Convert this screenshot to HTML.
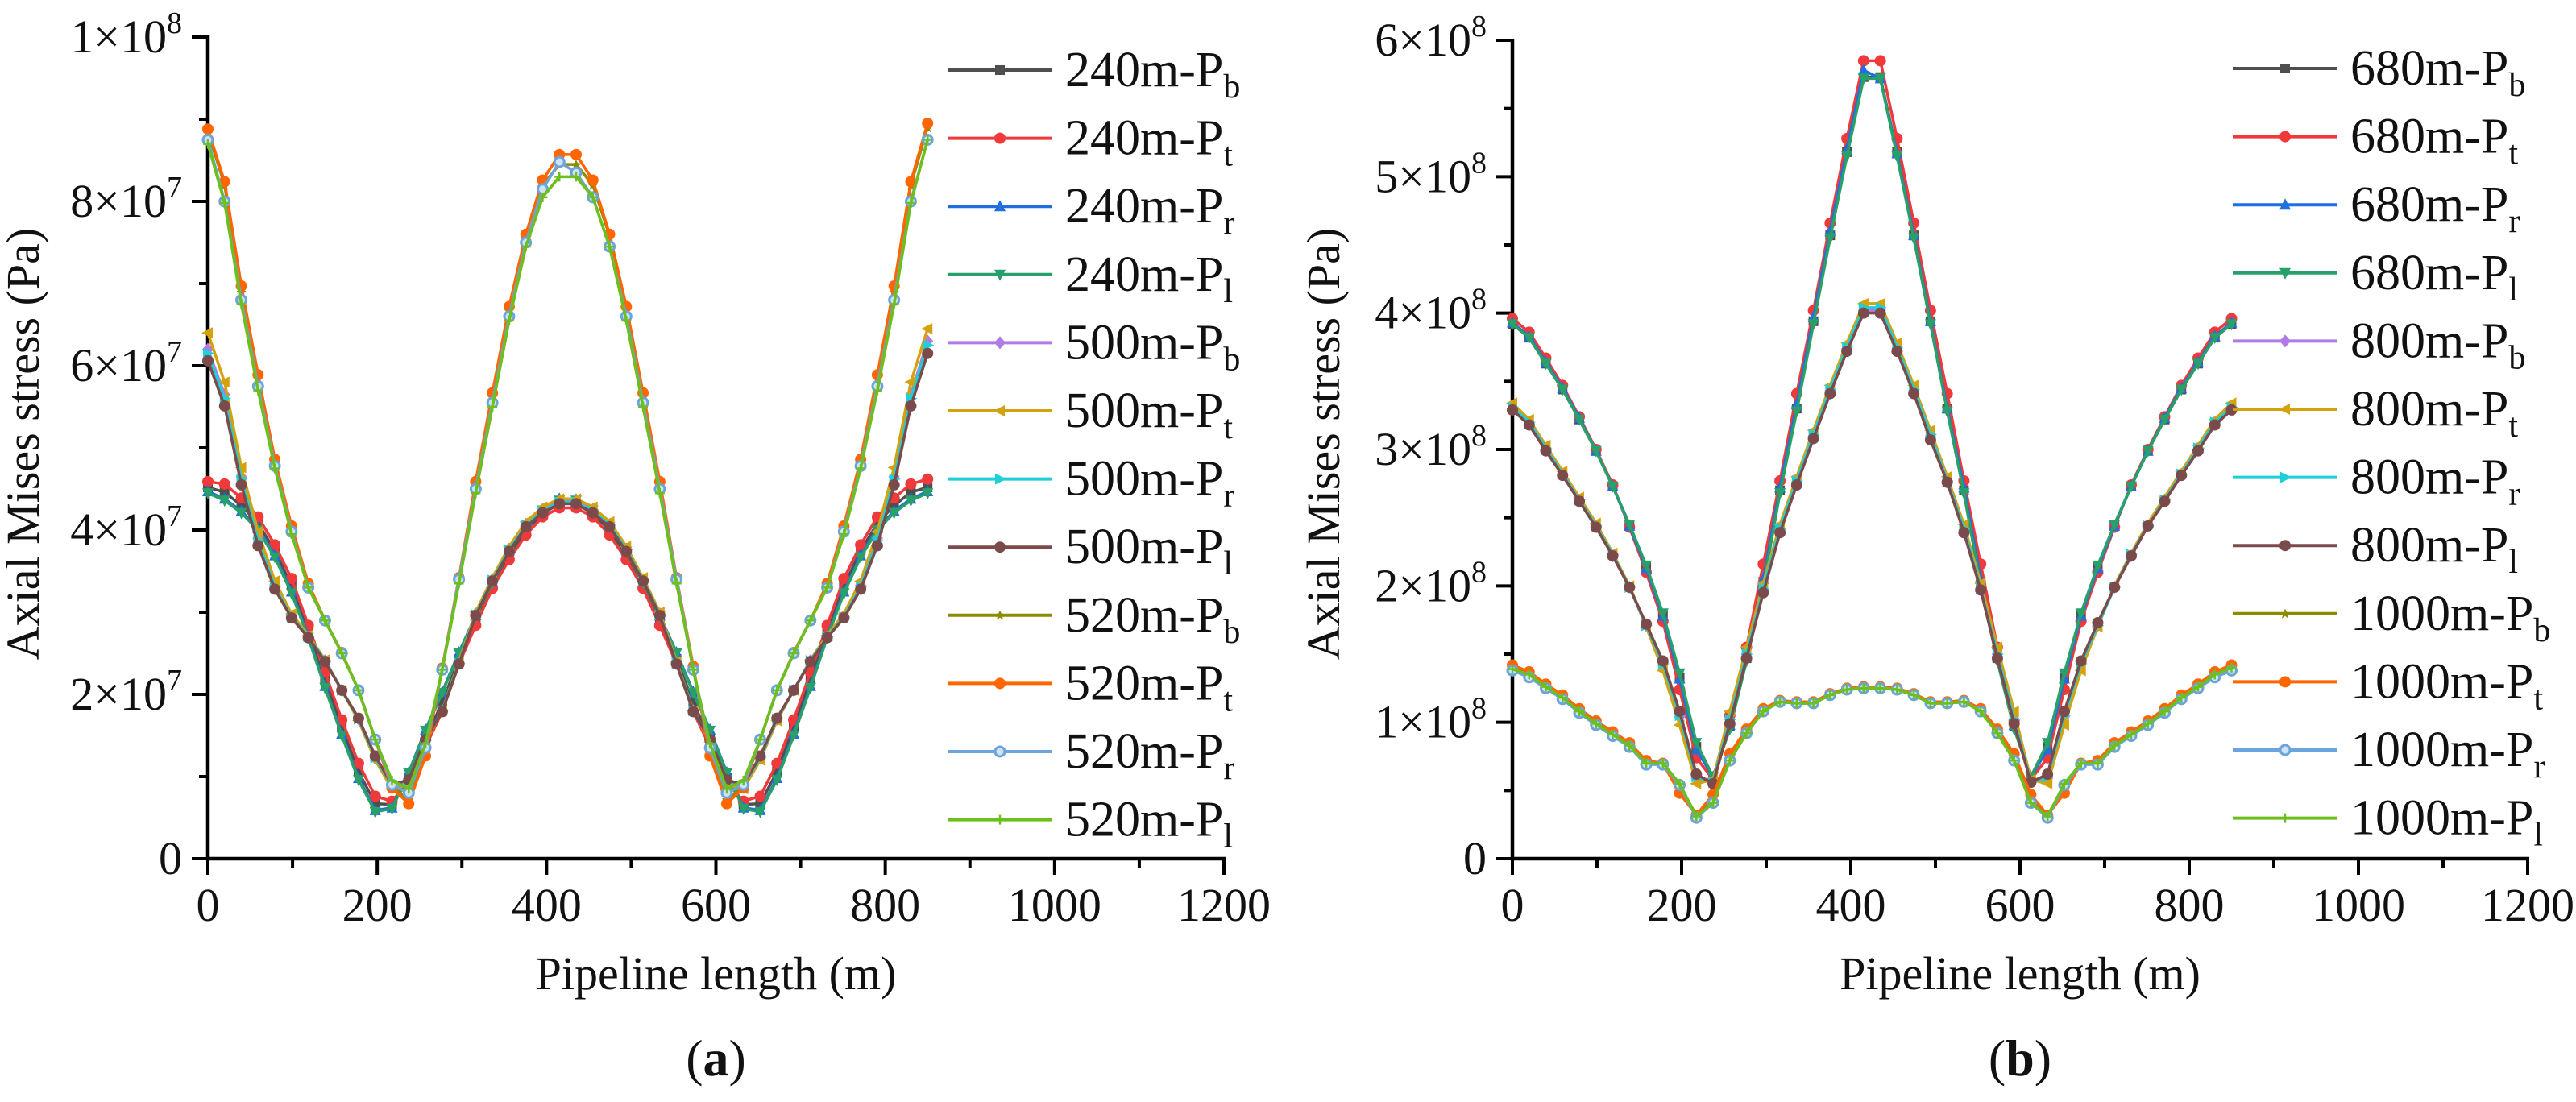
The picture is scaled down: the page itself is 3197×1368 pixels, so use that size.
<!DOCTYPE html>
<html><head><meta charset="utf-8">
<style>
html,body{margin:0;padding:0;background:#fff;}
svg{display:block;font-family:"Liberation Serif","DejaVu Serif",serif;}
text{font-family:"Liberation Serif","DejaVu Serif",serif;}
</style></head>
<body>
<svg id="chart" width="3197" height="1368" viewBox="0 0 3197 1368" xmlns="http://www.w3.org/2000/svg" font-family="Liberation Serif, DejaVu Serif, serif">
<rect width="3197" height="1368" fill="#fff"/>
<g id="pa"></g>
<g id="pb"></g>
</svg>
<script>
// x positions: 44 points evenly spanning 0..850 m
const xCount = 44;
const xEnd = 850;
// ---- Panel (a) values, unit 1e7 Pa ----
const a240b = [4.52,4.46,4.3,4.08,3.75,3.32,2.77,2.18,1.6,1.06,0.67,0.66,0.98,1.46,1.9,2.43,2.9,3.33,3.7,4.0,4.2,4.32,4.32,4.2,4.0,3.7,3.33,2.9,2.43,1.9,1.46,0.98,0.66,0.67,1.06,1.6,2.18,2.77,3.32,3.75,4.08,4.3,4.46,4.52];
const a240t = [4.59,4.56,4.39,4.16,3.82,3.41,2.84,2.27,1.69,1.16,0.76,0.70,0.93,1.36,1.79,2.37,2.84,3.29,3.64,3.94,4.16,4.27,4.27,4.16,3.94,3.64,3.29,2.84,2.37,1.79,1.36,0.93,0.70,0.76,1.16,1.69,2.27,2.84,3.41,3.82,4.16,4.39,4.56,4.62];
const a240r = [4.47,4.38,4.23,4.02,3.69,3.25,2.71,2.1,1.52,0.98,0.59,0.62,1.05,1.57,2.03,2.51,2.96,3.37,3.75,4.05,4.25,4.38,4.37,4.25,4.05,3.75,3.37,2.96,2.51,2.03,1.57,1.05,0.62,0.59,0.98,1.52,2.1,2.71,3.25,3.69,4.02,4.23,4.38,4.47];
const a240l = [4.45,4.36,4.21,4.0,3.67,3.23,2.69,2.08,1.5,0.96,0.57,0.61,1.04,1.56,2.02,2.5,2.95,3.36,3.74,4.04,4.24,4.36,4.36,4.24,4.04,3.74,3.36,2.95,2.5,2.02,1.56,1.04,0.61,0.57,0.96,1.5,2.08,2.69,3.23,3.67,4.0,4.21,4.36,4.45];
const a500b = [6.2,5.65,4.65,3.9,3.33,2.95,2.7,2.41,2.05,1.7,1.22,0.88,0.93,1.44,1.8,2.38,2.98,3.4,3.77,4.07,4.25,4.35,4.35,4.25,4.07,3.77,3.4,2.98,2.38,1.8,1.44,0.93,0.88,1.22,1.7,2.05,2.41,2.7,2.95,3.33,3.9,4.65,5.65,6.3];
const a500t = [6.4,5.8,4.76,3.98,3.38,2.98,2.72,2.42,2.05,1.68,1.2,0.85,0.9,1.42,1.8,2.4,3.0,3.42,3.8,4.1,4.28,4.38,4.38,4.28,4.1,3.8,3.42,3.0,2.4,1.8,1.42,0.9,0.85,1.2,1.68,2.05,2.42,2.72,2.98,3.38,3.98,4.76,5.8,6.45];
const a500r = [6.15,5.6,4.62,3.87,3.31,2.94,2.7,2.41,2.05,1.7,1.23,0.89,0.94,1.44,1.8,2.38,2.97,3.39,3.76,4.06,4.23,4.34,4.34,4.23,4.06,3.76,3.39,2.97,2.38,1.8,1.44,0.94,0.89,1.23,1.7,2.05,2.41,2.7,2.94,3.31,3.87,4.62,5.6,6.25];
const a500l = [6.06,5.51,4.55,3.81,3.28,2.93,2.69,2.4,2.05,1.71,1.25,0.9,0.96,1.45,1.79,2.37,2.96,3.38,3.74,4.04,4.21,4.32,4.32,4.21,4.04,3.74,3.38,2.96,2.37,1.79,1.45,0.96,0.9,1.25,1.71,2.05,2.4,2.69,2.93,3.28,3.81,4.55,5.51,6.15];
const a520b = [8.85,8.2,6.9,5.85,4.82,4.0,3.33,2.9,2.5,2.05,1.45,0.88,0.72,1.3,2.3,3.4,4.55,5.62,6.68,7.58,8.2,8.45,8.45,8.2,7.58,6.68,5.62,4.55,3.4,2.3,1.3,0.72,0.88,1.45,2.05,2.5,2.9,3.33,4.0,4.82,5.85,6.9,8.2,8.9];
const a520t = [8.88,8.24,6.97,5.89,4.86,4.05,3.35,2.9,2.51,2.05,1.45,0.86,0.67,1.25,2.32,3.42,4.59,5.67,6.72,7.6,8.26,8.57,8.57,8.26,7.6,6.72,5.67,4.59,3.42,2.34,1.25,0.67,0.86,1.45,2.05,2.51,2.9,3.35,4.05,4.86,5.89,6.97,8.24,8.95];
const a520r = [8.75,8.0,6.8,5.75,4.78,3.98,3.3,2.9,2.5,2.05,1.45,0.9,0.8,1.35,2.3,3.4,4.5,5.55,6.6,7.5,8.15,8.48,8.35,8.05,7.45,6.6,5.55,4.5,3.4,2.3,1.35,0.8,0.9,1.45,2.05,2.5,2.9,3.3,3.98,4.78,5.75,6.8,8.0,8.75];
const a520l = [8.7,7.98,6.75,5.7,4.75,3.95,3.3,2.9,2.5,2.05,1.45,0.95,0.85,1.4,2.3,3.35,4.45,5.5,6.55,7.45,8.05,8.3,8.3,8.05,7.45,6.55,5.5,4.45,3.35,2.3,1.4,0.85,0.95,1.45,2.05,2.5,2.9,3.3,3.95,4.75,5.7,6.75,7.98,8.75];
// ---- Panel (b) values, unit 1e8 Pa ----
const b680b = [3.92,3.82,3.63,3.44,3.22,2.99,2.73,2.45,2.14,1.79,1.33,0.82,0.6,0.97,1.47,2.03,2.7,3.3,3.94,4.57,5.18,5.73,5.73,5.18,4.57,3.94,3.3,2.7,2.03,1.47,0.97,0.6,0.82,1.33,1.79,2.14,2.45,2.73,2.99,3.22,3.44,3.63,3.82,3.92];
const b680t = [3.96,3.86,3.67,3.47,3.24,3.0,2.74,2.43,2.1,1.74,1.24,0.74,0.58,1.05,1.55,2.16,2.77,3.41,4.02,4.66,5.28,5.85,5.85,5.28,4.66,4.02,3.41,2.77,2.16,1.55,1.01,0.58,0.74,1.24,1.74,2.1,2.43,2.74,3.0,3.24,3.47,3.67,3.86,3.96];
const b680r = [3.93,3.83,3.64,3.45,3.23,2.99,2.73,2.44,2.13,1.78,1.32,0.8,0.6,0.98,1.48,2.05,2.72,3.33,3.97,4.6,5.2,5.78,5.72,5.17,4.57,3.94,3.3,2.72,2.05,1.48,0.98,0.6,0.8,1.32,1.78,2.13,2.44,2.73,2.99,3.23,3.45,3.64,3.83,3.93];
const b680l = [3.92,3.82,3.63,3.44,3.22,2.99,2.73,2.45,2.15,1.8,1.36,0.85,0.6,0.95,1.45,2.0,2.68,3.28,3.92,4.55,5.15,5.72,5.72,5.15,4.55,3.92,3.28,2.68,2.0,1.45,0.95,0.6,0.85,1.36,1.8,2.15,2.45,2.73,2.99,3.22,3.44,3.63,3.82,3.92];
const b800b = [3.3,3.19,3.0,2.82,2.63,2.44,2.22,1.99,1.71,1.42,1.04,0.59,0.56,1.02,1.5,1.97,2.41,2.76,3.1,3.43,3.74,4.02,4.02,3.74,3.43,3.1,2.76,2.41,1.97,1.5,1.02,0.56,0.59,1.04,1.42,1.71,1.99,2.22,2.44,2.63,2.82,3.0,3.19,3.3];
const b800t = [3.34,3.22,3.03,2.84,2.65,2.46,2.24,2.0,1.7,1.38,0.98,0.55,0.58,1.08,1.55,2.02,2.45,2.8,3.14,3.47,3.78,4.07,4.07,3.78,3.47,3.14,2.8,2.45,2.02,1.55,1.08,0.58,0.55,0.98,1.38,1.7,2.0,2.24,2.46,2.65,2.84,3.03,3.22,3.34];
const b800r = [3.31,3.2,3.01,2.82,2.63,2.44,2.23,1.99,1.71,1.43,1.05,0.6,0.56,1.02,1.5,1.98,2.42,2.77,3.11,3.44,3.75,4.04,4.04,3.75,3.44,3.11,2.77,2.42,1.98,1.5,1.02,0.56,0.6,1.05,1.43,1.71,1.99,2.23,2.44,2.63,2.82,3.01,3.2,3.31];
const b800l = [3.29,3.18,2.99,2.81,2.62,2.43,2.22,1.99,1.72,1.45,1.08,0.62,0.55,0.99,1.47,1.95,2.39,2.74,3.08,3.41,3.72,4.0,4.0,3.72,3.41,3.07,2.76,2.39,1.97,1.47,0.99,0.56,0.62,1.08,1.45,1.73,1.99,2.22,2.44,2.62,2.81,2.99,3.18,3.29];
const b1000b = [1.4,1.35,1.27,1.19,1.09,1.0,0.92,0.84,0.71,0.7,0.53,0.32,0.43,0.73,0.93,1.09,1.15,1.14,1.14,1.2,1.24,1.25,1.25,1.24,1.2,1.14,1.14,1.15,1.09,0.93,0.73,0.43,0.32,0.53,0.7,0.71,0.84,0.92,1.0,1.09,1.19,1.27,1.35,1.41];
const b1000t = [1.42,1.37,1.28,1.2,1.1,1.01,0.93,0.85,0.72,0.7,0.48,0.32,0.47,0.77,0.95,1.1,1.16,1.15,1.15,1.21,1.25,1.26,1.26,1.25,1.21,1.15,1.15,1.16,1.1,0.95,0.77,0.47,0.32,0.48,0.7,0.72,0.85,0.93,1.01,1.1,1.2,1.28,1.37,1.42];
const b1000r = [1.38,1.33,1.25,1.17,1.07,0.98,0.9,0.82,0.69,0.69,0.54,0.3,0.41,0.72,0.92,1.08,1.15,1.14,1.14,1.2,1.24,1.25,1.25,1.24,1.2,1.14,1.14,1.15,1.08,0.92,0.72,0.41,0.3,0.54,0.69,0.69,0.82,0.9,0.98,1.07,1.17,1.25,1.33,1.38];
const b1000l = [1.39,1.35,1.26,1.18,1.08,0.99,0.91,0.83,0.7,0.7,0.55,0.31,0.41,0.72,0.92,1.08,1.15,1.14,1.14,1.2,1.24,1.25,1.25,1.24,1.2,1.14,1.14,1.15,1.08,0.92,0.72,0.41,0.31,0.55,0.7,0.7,0.83,0.91,0.99,1.08,1.18,1.26,1.35,1.4];

const xTicks = [0,200,400,600,800,1000,1200];
const aYTicks = [0,2,4,6,8,10];      // x1e7
const aYLabels = ["0","2×10|7","4×10|7","6×10|7","8×10|7","1×10|8"];
const bYTicks = [0,1,2,3,4,5,6];     // x1e8
const bYLabels = ["0","1×10|8","2×10|8","3×10|8","4×10|8","5×10|8","6×10|8"];

const NS = "http://www.w3.org/2000/svg";
const FONT = "Liberation Serif, DejaVu Serif, serif";
function mk(tag, attrs, parent){const e=document.createElementNS(NS,tag);for(const k in attrs)e.setAttribute(k,attrs[k]);if(tag==="text")e.setAttribute("font-family",FONT);if(parent)parent.appendChild(e);return e;}

function marker(g, shape, cx, cy, color){
  const s=6;let e;
  if(shape==="square") e=mk("rect",{x:cx-s,y:cy-s,width:2*s,height:2*s,fill:color},g);
  else if(shape==="circle") e=mk("circle",{cx:cx,cy:cy,r:s+1,fill:color},g);
  else if(shape==="ocircle") e=mk("circle",{cx:cx,cy:cy,r:s,fill:"#cfe3f5",stroke:color,"stroke-width":3},g);
  else if(shape==="up") e=mk("polygon",{points:`${cx},${cy-s-2} ${cx+s+1},${cy+s} ${cx-s-1},${cy+s}`,fill:color},g);
  else if(shape==="down") e=mk("polygon",{points:`${cx},${cy+s+2} ${cx+s+1},${cy-s} ${cx-s-1},${cy-s}`,fill:color},g);
  else if(shape==="left") e=mk("polygon",{points:`${cx-s-2},${cy} ${cx+s},${cy-s-1} ${cx+s},${cy+s+1}`,fill:color},g);
  else if(shape==="right") e=mk("polygon",{points:`${cx+s+2},${cy} ${cx-s},${cy-s-1} ${cx-s},${cy+s+1}`,fill:color},g);
  else if(shape==="diamond") e=mk("polygon",{points:`${cx},${cy-s-2} ${cx+s+1},${cy} ${cx},${cy+s+2} ${cx-s-1},${cy}`,fill:color},g);
  else if(shape==="star") e=mk("polygon",{points:`${cx},${cy-s} ${cx+2},${cy-2} ${cx+s},${cy-1} ${cx+3},${cy+2} ${cx+4},${cy+s} ${cx},${cy+3} ${cx-4},${cy+s} ${cx-3},${cy+2} ${cx-s},${cy-1} ${cx-2},${cy-2}`,fill:color},g);
  else e=mk("path",{d:`M${cx-s} ${cy}H${cx+s}M${cx} ${cy-s}V${cy+s}`,stroke:color,"stroke-width":2.5},g);
  
  
}

function panel(gid, cfg){
  const g=document.getElementById(gid);
  const X=v=>cfg.x0+(cfg.x1-cfg.x0)*v/1200;
  const Y=v=>cfg.y0-(cfg.y0-cfg.yTop)*v/cfg.yMax;
  const ax=mk("path",{d:`M${cfg.x0} ${cfg.yTop-2}V${cfg.y0}H${cfg.x1+2}`,fill:"none",stroke:"#000","stroke-width":4.5},g);
  
  
  for(let v=0; v<=1200; v+=100){
    const major=v%200===0;
    const t=mk("line",{x1:X(v),x2:X(v),y1:cfg.y0,y2:cfg.y0+(major?20:11),stroke:"#000","stroke-width":4},g);
    
    
  }
  xTicks.forEach(v=>{
    const t=mk("text",{x:X(v),y:1143,"font-size":58,"text-anchor":"middle",fill:"#111"},g);
    t.textContent=String(v);
    
    
  });
  for(let v=0; v<=cfg.yMax+1e-9; v+=cfg.minor){
    const major=Math.abs(v/cfg.major-Math.round(v/cfg.major))<1e-6;
    const t=mk("line",{x1:cfg.x0-(major?20:11),x2:cfg.x0,y1:Y(v),y2:Y(v),stroke:"#000","stroke-width":4},g);
    
    
  }
  cfg.yTicks.forEach((v,i)=>{
    const t=mk("text",{x:cfg.x0-32,y:Y(v)+19,"font-size":58,"text-anchor":"end",fill:"#111"},g);
    
    
    const parts=cfg.yLabels[i].split("|");
    const a=mk("tspan",{},t);a.textContent=parts[0];
    if(parts[1]){const s=mk("tspan",{"font-size":38,dy:-24},t);s.textContent=parts[1];}
  });
  const xt=mk("text",{x:(X(0)+X(1200))/2,y:1228,"font-size":58,"text-anchor":"middle",fill:"#111"},g);
  xt.textContent="Pipeline length (m)";
  
  
  const yt=mk("text",{x:0,y:0,"font-size":58,"text-anchor":"middle",fill:"#111",transform:`translate(${cfg.ytx},551) rotate(-90)`},g);
  yt.textContent="Axial Mises stress (Pa)";
  
  
  const pl=mk("text",{x:(X(0)+X(1200))/2,y:1335,"font-size":64,"text-anchor":"middle",fill:"#111"},g);
  
  
  const p1=mk("tspan",{},pl);p1.textContent="(";
  const p2=mk("tspan",{"font-weight":"bold"},pl);p2.textContent=cfg.letter;
  const p3=mk("tspan",{},pl);p3.textContent=")";
  cfg.series.forEach(s=>{
    const sg=mk("g",{},g);
    
    
    const pts=s.data.map((v,i)=>[X(i*xEnd/(xCount-1)),Y(v)]);
    const line=mk("polyline",{points:pts.map(p=>p.join(",")).join(" "),fill:"none",stroke:s.color,"stroke-width":3.5,"stroke-linejoin":"round"},sg);
    
    
    pts.forEach(p=>marker(sg,s.shape,p[0],p[1],s.color));
  });
  cfg.series.forEach((s,k)=>{
    const lg=mk("g",{},g);
    
    
    const y=cfg.legY+k*cfg.legStep;
    mk("line",{x1:cfg.legX,x2:cfg.legX+130,y1:y,y2:y,stroke:s.color,"stroke-width":4},lg);
    marker(lg,s.shape,cfg.legX+65,y,s.color);
    const t=mk("text",{x:cfg.legX+146,y:y+20,"font-size":62,fill:"#111"},lg);
    const parts=s.name.split("_");
    const a=mk("tspan",{},t);a.textContent=parts[0];
    const b=mk("tspan",{"font-size":42,dy:14},t);b.textContent=parts[1];
  });
}

const C={gray:"#4f4f4f",red:"#f0393b",blue:"#1f6fe0",teal:"#27a06a",purple:"#b07be6",gold:"#d4a20c",cyan:"#1ccfd8",brown:"#7b4b4b",olive:"#8c8c00",orange:"#ff6600",lblue:"#6aa4db",lime:"#6cbf1d"};

panel("pa",{x0:258,x1:1519,y0:1066,yTop:46,yMax:10,minor:1,major:2,yTicks:aYTicks,yLabels:aYLabels,ytx:48,letter:"a",
  legX:1176,legY:87,legStep:84.6,
  series:[
    {name:"240m-P_b",data:a240b,color:C.gray,shape:"square"},
    {name:"240m-P_t",data:a240t,color:C.red,shape:"circle"},
    {name:"240m-P_r",data:a240r,color:C.blue,shape:"up"},
    {name:"240m-P_l",data:a240l,color:C.teal,shape:"down"},
    {name:"500m-P_b",data:a500b,color:C.purple,shape:"diamond"},
    {name:"500m-P_t",data:a500t,color:C.gold,shape:"left"},
    {name:"500m-P_r",data:a500r,color:C.cyan,shape:"right"},
    {name:"500m-P_l",data:a500l,color:C.brown,shape:"circle"},
    {name:"520m-P_b",data:a520b,color:C.olive,shape:"star"},
    {name:"520m-P_t",data:a520t,color:C.orange,shape:"circle"},
    {name:"520m-P_r",data:a520r,color:C.lblue,shape:"ocircle"},
    {name:"520m-P_l",data:a520l,color:C.lime,shape:"plus"}
  ]});
panel("pb",{x0:1877,x1:3137,y0:1066,yTop:50,yMax:6,minor:0.5,major:1,yTicks:bYTicks,yLabels:bYLabels,ytx:1662,letter:"b",
  legX:2771,legY:85,legStep:84.6,
  series:[
    {name:"680m-P_b",data:b680b,color:C.gray,shape:"square"},
    {name:"680m-P_t",data:b680t,color:C.red,shape:"circle"},
    {name:"680m-P_r",data:b680r,color:C.blue,shape:"up"},
    {name:"680m-P_l",data:b680l,color:C.teal,shape:"down"},
    {name:"800m-P_b",data:b800b,color:C.purple,shape:"diamond"},
    {name:"800m-P_t",data:b800t,color:C.gold,shape:"left"},
    {name:"800m-P_r",data:b800r,color:C.cyan,shape:"right"},
    {name:"800m-P_l",data:b800l,color:C.brown,shape:"circle"},
    {name:"1000m-P_b",data:b1000b,color:C.olive,shape:"star"},
    {name:"1000m-P_t",data:b1000t,color:C.orange,shape:"circle"},
    {name:"1000m-P_r",data:b1000r,color:C.lblue,shape:"ocircle"},
    {name:"1000m-P_l",data:b1000l,color:C.lime,shape:"plus"}
  ]});
</script>
</body></html>
